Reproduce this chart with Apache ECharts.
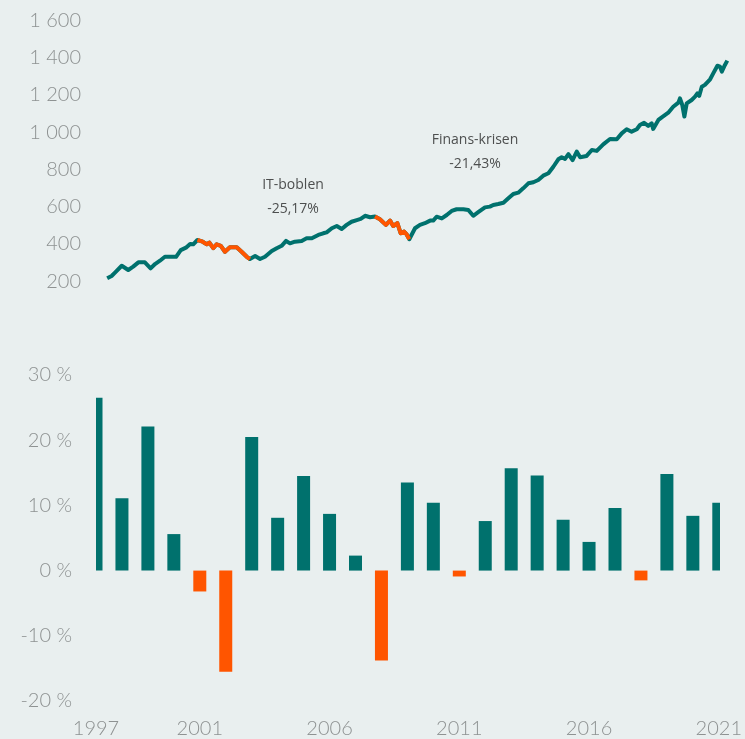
<!DOCTYPE html>
<html>
<head>
<meta charset="utf-8">
<script src="https://cdn.jsdelivr.net/npm/echarts@6/dist/echarts.min.js"></script>
<style>
  html, body { margin: 0; padding: 0; background: #e9efef; }
  #chart { width: 745px; height: 739px; }
</style>
</head>
<body>
<div id="chart"></div>
<script>
// index level (decimal year, value)
const lineYears = [
  1997.43, 1997.60, 1997.73, 1997.99, 1998.24, 1998.43, 1998.63, 1998.88, 1999.10, 1999.27,
  1999.46, 1999.65, 2000.08, 2000.26, 2000.46, 2000.62, 2000.74, 2000.90, 2001.07, 2001.26,
  2001.36, 2001.51, 2001.64, 2001.80, 2001.96, 2002.15, 2002.41, 2002.60, 2002.80, 2002.92,
  2003.12, 2003.31, 2003.50, 2003.76, 2003.95, 2004.14, 2004.31, 2004.46, 2004.65, 2004.91,
  2005.10, 2005.30, 2005.55, 2005.74, 2005.87, 2006.07, 2006.26, 2006.45, 2006.64, 2006.83,
  2007.03, 2007.18, 2007.35, 2007.54, 2007.73, 2007.92, 2008.15, 2008.31, 2008.43, 2008.59,
  2008.72, 2008.85, 2008.94, 2009.05, 2009.27, 2009.46, 2009.65, 2009.85, 2009.97, 2010.10,
  2010.30, 2010.49, 2010.68, 2010.87, 2011.13, 2011.32, 2011.51, 2011.70, 2011.96, 2012.15,
  2012.28, 2012.47, 2012.67, 2012.86, 2013.05, 2013.24, 2013.43, 2013.63, 2013.82, 2014.01,
  2014.20, 2014.40, 2014.59, 2014.78, 2014.91, 2015.04, 2015.17, 2015.33, 2015.49, 2015.62,
  2015.87, 2016.07, 2016.26, 2016.51, 2016.77, 2017.03, 2017.22, 2017.41, 2017.60, 2017.80,
  2017.92, 2018.08, 2018.24, 2018.37, 2018.43, 2018.63, 2018.76, 2018.82, 2019.01, 2019.20,
  2019.40, 2019.46, 2019.55, 2019.63, 2019.72, 2019.91, 2020.04, 2020.13, 2020.20, 2020.30,
  2020.42, 2020.62, 2020.74, 2020.90, 2021.00, 2021.07, 2021.19, 2021.28
];
const lineValues = [
  216, 228, 246, 283, 260, 278, 301, 301, 269, 292,
  310, 331, 331, 367, 380, 400, 398, 421, 414, 398,
  407, 377, 398, 390, 358, 382, 382, 358, 331, 319,
  335, 319, 331, 362, 377, 390, 416, 403, 412, 416,
  430, 430, 448, 457, 462, 484, 496, 480, 502, 519,
  528, 534, 551, 543, 547, 532, 502, 525, 496, 511,
  457, 466, 453, 425, 484, 502, 511, 525, 525, 546,
  537, 555, 577, 586, 586, 582, 551, 570, 596, 600,
  609, 614, 621, 645, 668, 675, 698, 725, 731, 743,
  766, 779, 814, 854, 865, 856, 882, 850, 895, 865,
  872, 904, 899, 934, 963, 961, 993, 1015, 1002, 1015,
  1038, 1050, 1033, 1047, 1017, 1065, 1079, 1069, 1104, 1136,
  1158, 1181, 1145, 1083, 1154, 1172, 1190, 1208, 1194, 1243,
  1253, 1283, 1315, 1356, 1351, 1324, 1360, 1383
];

// drawdown periods shown in orange
const itBubble = [2000.90, 2002.92];
const financeCrisis = [2007.73, 2009.05];

// yearly returns, %
const barYears = [
  1997, 1998, 1999, 2000, 2001, 2002, 2003, 2004, 2005, 2006, 2007, 2008, 2009,
  2010, 2011, 2012, 2013, 2014, 2015, 2016, 2017, 2018, 2019, 2020, 2021
];
const barValues = [
  26.5, 11.1, 22.1, 5.6, -3.2, -15.5, 20.5, 8.1, 14.5, 8.7, 2.3, -13.8, 13.5,
  10.4, -0.9, 7.6, 15.7, 14.6, 7.8, 4.4, 9.6, -1.5, 14.8, 8.4, 10.4
];

const yearLabels = [1997, 2001, 2006, 2011, 2016, 2021];

const TEAL = '#00716d';
const ORANGE = '#ff5500';
const BG = '#e9efef';
const LABEL_GREY = '#8e9292';

const chart = echarts.init(document.getElementById('chart'));

const crashes = [itBubble, financeCrisis];
const teal = lineYears.map((y, i) => [y, lineValues[i]]);
const orange = lineYears.map((y, i) =>
  crashes.some(c => y >= c[0] && y <= c[1]) ? [y, lineValues[i]] : [y, null]
);

const axisFont = {
  color: LABEL_GREY,
  fontFamily: 'Lato',
  fontWeight: 300,
  fontSize: 20
};

const noteStyle = {
  fill: '#4d4f4f',
  fontFamily: 'Open Sans',
  fontSize: 14,
  lineHeight: 24,
  align: 'center',
  verticalAlign: 'middle'
};

const option = {
  backgroundColor: BG,
  animation: false,
  grid: [
    { left: 96, right: 12, top: 20.2, bottom: 457.8 },
    { left: 96, right: 25, top: 375, bottom: 35.6 }
  ],
  xAxis: [
    { gridIndex: 0, type: 'value', min: 1997, max: 2021.5, show: false },
    {
      gridIndex: 1,
      type: 'value',
      min: 1997,
      max: 2021,
      interval: 1,
      axisLine: { show: false, onZero: false },
      axisTick: { show: false },
      splitLine: { show: false },
      axisLabel: {
        ...axisFont,
        margin: 18,
        showMinLabel: true,
        showMaxLabel: true,
        formatter: v => yearLabels.includes(v) ? String(v) : ''
      }
    }
  ],
  yAxis: [
    {
      gridIndex: 0,
      type: 'value',
      min: 200,
      max: 1600,
      interval: 200,
      axisLine: { show: false },
      axisTick: { show: false },
      splitLine: { show: false },
      axisLabel: {
        ...axisFont,
        margin: 15,
        padding: [6, 0, 0, 0],
        formatter: v => v >= 1000 ? Math.floor(v / 1000) + ' ' + String(v % 1000).padStart(3, '0') : String(v)
      }
    },
    {
      gridIndex: 1,
      type: 'value',
      min: -20,
      max: 30,
      interval: 10,
      axisLine: { show: false },
      axisTick: { show: false },
      splitLine: { show: false },
      axisLabel: {
        ...axisFont,
        margin: 24,
        padding: [6, 0, 0, 0],
        formatter: v => v + ' %'
      }
    }
  ],
  series: [
    {
      type: 'line',
      xAxisIndex: 0,
      yAxisIndex: 0,
      data: teal,
      symbol: 'none',
      lineStyle: { color: TEAL, width: 4, join: 'round' }
    },
    {
      type: 'line',
      xAxisIndex: 0,
      yAxisIndex: 0,
      data: orange,
      symbol: 'none',
      connectNulls: false,
      lineStyle: { color: ORANGE, width: 4, join: 'round' }
    },
    {
      type: 'bar',
      xAxisIndex: 1,
      yAxisIndex: 1,
      barWidth: 13,
      clip: true,
      data: barYears.map((y, i) => [y, barValues[i]]),
      itemStyle: {
        color: p => p.value[1] < 0 ? ORANGE : TEAL
      }
    }
  ],
  graphic: [
    // the first and last bars are cut at the plot edges
    { type: 'rect', z: 100, shape: { x: 80, y: 370, width: 16, height: 340 }, style: { fill: BG } },
    { type: 'rect', z: 100, shape: { x: 720, y: 370, width: 25, height: 340 }, style: { fill: BG } },
    { type: 'text', x: 293, y: 197, style: { text: 'IT-boblen\n-25,17%', ...noteStyle } },
    { type: 'text', x: 475, y: 152, style: { text: 'Finans-krisen\n-21,43%', ...noteStyle } }
  ]
};

chart.setOption(option);
</script>
</body>
</html>
